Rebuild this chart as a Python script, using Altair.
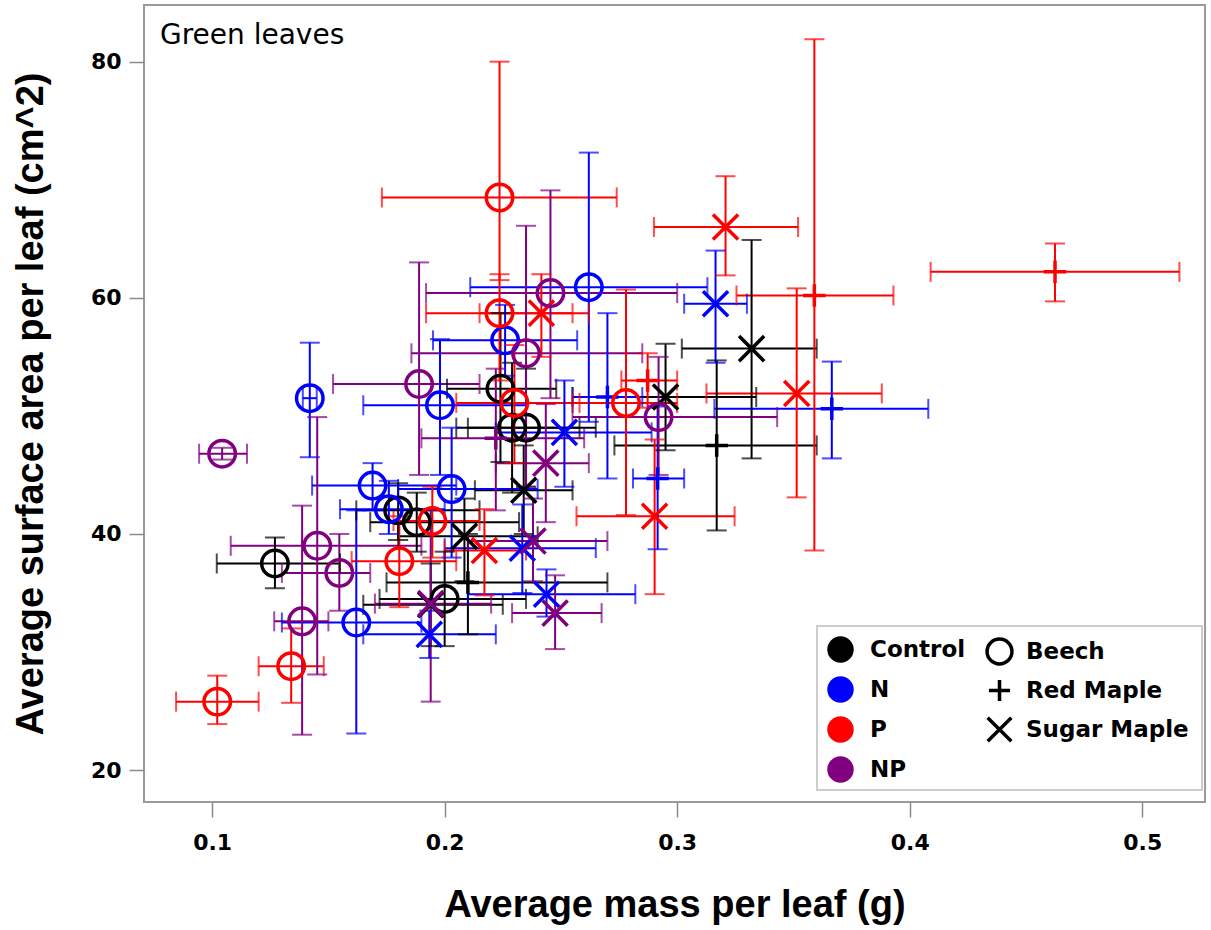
import altair as alt
import pandas as pd

# ---- data ----
group = (["Control"] * 14 + ["N"] * 16 + ["P"] * 16 + ["NP"] * 13)
species = (["Beech"] * 7 + ["Red Maple"] * 2 + ["Sugar Maple"] * 5
           + ["Beech"] * 8 + ["Red Maple"] * 3 + ["Sugar Maple"] * 5
           + ["Beech"] * 8 + ["Red Maple"] * 3 + ["Sugar Maple"] * 5
           + ["Beech"] * 8 + ["Red Maple"] * 1 + ["Sugar Maple"] * 4)
mass = [0.127, 0.180, 0.188, 0.224, 0.229, 0.235, 0.200,
        0.317, 0.210,
        0.332, 0.295, 0.234, 0.2085, 0.194,
        0.142, 0.169, 0.176, 0.198, 0.203, 0.162, 0.226, 0.262,
        0.3665, 0.2916, 0.270,
        0.3165, 0.2515, 0.2334, 0.2438, 0.1934,
        0.2236, 0.2236, 0.230, 0.278, 0.1947, 0.1805, 0.134, 0.1022,
        0.4625, 0.359, 0.2873,
        0.3208, 0.2416, 0.3514, 0.2903, 0.2171,
        0.1043, 0.189, 0.1452, 0.1547, 0.1387, 0.2455, 0.235, 0.292,
        0.222,
        0.2435, 0.238, 0.2475, 0.194]
mass_lo = [0.102, 0.162, 0.168, 0.201, 0.205, 0.210, 0.172,
           0.273, 0.175,
           0.302, 0.255, 0.213, 0.180, 0.165,
           0.139, 0.143, 0.155, 0.165, 0.180, 0.130, 0.195, 0.211,
           0.316, 0.281, 0.255,
           0.303, 0.222, 0.200, 0.210, 0.165,
           0.173, 0.192, 0.205, 0.255, 0.178, 0.160, 0.120, 0.0845,
           0.409, 0.3255, 0.276,
           0.290, 0.215, 0.3126, 0.2567, 0.200,
           0.0944, 0.152, 0.108, 0.130, 0.1267, 0.192, 0.1857, 0.255,
           0.190,
           0.222, 0.210, 0.229, 0.170]
mass_hi = [0.155, 0.215, 0.232, 0.248, 0.258, 0.265, 0.235,
           0.360, 0.270,
           0.360, 0.334, 0.255, 0.240, 0.225,
           0.145, 0.205, 0.200, 0.235, 0.240, 0.190, 0.257, 0.313,
           0.408, 0.303, 0.285,
           0.330, 0.289, 0.265, 0.282, 0.222,
           0.274, 0.255, 0.258, 0.300, 0.215, 0.205, 0.148, 0.120,
           0.516, 0.393, 0.300,
           0.352, 0.262, 0.388, 0.3247, 0.235,
           0.115, 0.215, 0.190, 0.168, 0.150, 0.300, 0.285, 0.343,
           0.260,
           0.262, 0.270, 0.2675, 0.220]
area = [37.5, 42.0, 41.0, 52.3, 49.0, 49.0, 34.5,
        47.5, 35.9,
        55.7, 51.6, 43.7, 39.8, 34.0,
        51.5, 44.1, 42.1, 50.9, 43.8, 32.5, 56.4, 60.9,
        50.6, 44.7, 51.6,
        59.5, 48.6, 38.8, 34.9, 31.5,
        68.5, 58.7, 51.1, 51.1, 41.1, 37.7, 28.8, 25.8,
        62.2, 60.2, 53.0,
        66.0, 58.7, 51.9, 41.5, 38.6,
        46.8, 52.7, 39.0, 36.7, 32.6, 60.4, 55.3, 49.9,
        48.1,
        46.0, 39.4, 33.3, 34.1]
area_lo = [35.4, 39.5, 38.5, 46.1, 43.5, 44.0, 30.5,
           40.3, 31.5,
           46.4, 47.1, 40.0, 36.0, 30.5,
           46.5, 42.0, 40.0, 45.0, 38.0, 23.1, 53.4, 49.5,
           46.4, 38.7, 44.7,
           54.5, 44.0, 35.0, 33.0, 29.5,
           61.5, 53.0, 46.0, 41.6, 38.0, 33.8, 25.7, 23.9,
           59.7, 38.6, 50.7,
           61.9, 55.0, 43.1, 34.9, 34.8,
           46.3, 45.0, 28.1, 33.5, 23.0, 51.5, 44.0, 45.0,
           42.0,
           41.0, 36.0, 30.25, 25.8]
area_hi = [39.7, 44.3, 43.5, 58.7, 54.5, 54.0, 38.5,
           54.7, 40.0,
           64.9, 56.1, 47.5, 43.0, 37.5,
           56.2, 46.0, 44.5, 56.5, 49.0, 42.0, 59.4, 72.3,
           54.6, 50.8, 58.7,
           64.0, 53.0, 42.5, 37.0, 33.5,
           80.0, 62.0, 56.0, 60.7, 44.0, 41.5, 32.0, 28.0,
           64.6, 81.9, 55.3,
           70.3, 62.0, 60.8, 48.0, 42.1,
           47.3, 63.0, 49.9, 40.0, 42.4, 69.1, 66.1, 55.0,
           54.0,
           51.0, 43.0, 36.5, 42.0]

groups = ["Control", "N", "P", "NP"]
group_colors = ["#000000", "#0000FF", "#FF0000", "#800080"]
species_names = ["Beech", "Red Maple", "Sugar Maple"]
species_shapes = ["circle", "M-0.85,0L0.85,0M0,-0.85L0,0.85",
                  "M-0.95,-0.95L0.95,0.95M-0.95,0.95L0.95,-0.95"]
x_ticks = [0.1, 0.2, 0.3, 0.4, 0.5]
y_ticks = [20, 40, 60, 80]

df = pd.DataFrame({"group": group, "species": species, "mass": mass,
                   "mass_lo": mass_lo, "mass_hi": mass_hi, "area": area,
                   "area_lo": area_lo, "area_hi": area_hi})

LFONT = "DejaVu Sans"
TFONT = "Liberation Sans"

xscale = alt.Scale(domain=[0.0707, 0.527], nice=False, zero=False)
yscale = alt.Scale(domain=[17.3, 84.8], nice=False, zero=False)
gscale = alt.Scale(domain=groups, range=group_colors)
# same mapping, listed in another order so that these legend-less channels
# are not merged into the colour legend
gscale_alt = alt.Scale(domain=groups[::-1], range=group_colors[::-1])

color_legend = alt.Legend(
    title=None, orient="none", legendX=683, legendY=631, zindex=2,
    symbolType="circle", symbolSize=700, symbolStrokeWidth=0,
    labelFont=LFONT, labelFontSize=23, labelFontWeight="bold", labelColor="black",
    labelOffset=16, rowPadding=13, padding=0, labelLimit=300,
)
shape_legend = alt.Legend(
    title=None, orient="none", legendX=841, legendY=632, zindex=2,
    symbolSize=620, symbolStrokeWidth=3.5, symbolStrokeColor="black",
    labelFont=LFONT, labelFontSize=23, labelFontWeight="bold", labelColor="black",
    labelOffset=12, rowPadding=1, padding=0, labelLimit=300,
)

stroke_enc = alt.Stroke("group:N", scale=gscale_alt, legend=None)
fill_enc = alt.Fill("group:N", scale=gscale_alt, legend=None)

base = alt.Chart(df)

xaxis = alt.Axis(values=x_ticks, title="Average mass per leaf (g)", format=".1f")
yaxis = alt.Axis(values=y_ticks, title="Average surface area per leaf (cm^2)")

hbar = base.mark_rule(strokeWidth=2).encode(
    x=alt.X("mass_lo:Q", scale=xscale, axis=xaxis), x2="mass_hi:Q",
    y=alt.Y("area:Q", scale=yscale, axis=yaxis), stroke=stroke_enc)
vbar = base.mark_rule(strokeWidth=2).encode(
    x=alt.X("mass:Q", scale=xscale), y=alt.Y("area_lo:Q", scale=yscale), y2="area_hi:Q",
    stroke=stroke_enc)
cap_l = base.mark_tick(orient="vertical", size=20, thickness=2).encode(
    x=alt.X("mass_lo:Q", scale=xscale), y=alt.Y("area:Q", scale=yscale), fill=fill_enc)
cap_r = base.mark_tick(orient="vertical", size=20, thickness=2).encode(
    x=alt.X("mass_hi:Q", scale=xscale), y=alt.Y("area:Q", scale=yscale), fill=fill_enc)
cap_b = base.mark_tick(orient="horizontal", size=20, thickness=2).encode(
    x=alt.X("mass:Q", scale=xscale), y=alt.Y("area_lo:Q", scale=yscale), fill=fill_enc)
cap_t = base.mark_tick(orient="horizontal", size=20, thickness=2).encode(
    x=alt.X("mass:Q", scale=xscale), y=alt.Y("area_hi:Q", scale=yscale), fill=fill_enc)

points = base.mark_point(filled=False, strokeWidth=3.5, opacity=1, size=700).encode(
    x=alt.X("mass:Q", scale=xscale), y=alt.Y("area:Q", scale=yscale),
    stroke=stroke_enc,
    shape=alt.Shape("species:N", scale=alt.Scale(domain=species_names, range=species_shapes),
                    legend=shape_legend),
)

# invisible carrier for the filled-circle colour legend
carrier = base.mark_circle(opacity=0).encode(
    x=alt.X("mass:Q", scale=xscale), y=alt.Y("area:Q", scale=yscale),
    color=alt.Color("group:N", scale=gscale, legend=color_legend))

box = alt.Chart(pd.DataFrame({"k": [0]})).mark_rect(
    fill="white", stroke="#cccccc", strokeWidth=2).encode(
    x=alt.value(673), x2=alt.value(1058), y=alt.value(621), y2=alt.value(785))

label = alt.Chart(pd.DataFrame({"t": ["Green leaves"]})).mark_text(
    align="left", baseline="middle", font="DejaVu Sans", fontSize=28, fontWeight="normal",
    color="black").encode(x=alt.value(16), y=alt.value(31), text="t:N")

chart = alt.layer(hbar, vbar, cap_l, cap_r, cap_b, cap_t, points, carrier, box, label).properties(
    width=1061, height=797,
    padding={"left": 12, "top": 5, "right": 5, "bottom": 5},
).configure_view(
    stroke="#9a9a9a", strokeWidth=2
).configure_axis(
    grid=False, domain=False, tickColor="#8a8a8a", tickSize=15, tickWidth=1.5,
    labelFont=LFONT, labelFontSize=22, labelFontWeight="bold", labelColor="black",
    titleFont=TFONT, titleFontSize=38, titleFontWeight="bold", titleColor="black",
).configure_axisX(labelPadding=15, titlePadding=33).configure_axisY(
    labelPadding=8, titlePadding=40)

chart.save("out.html", embed_options={"renderer": "svg", "actions": False})
